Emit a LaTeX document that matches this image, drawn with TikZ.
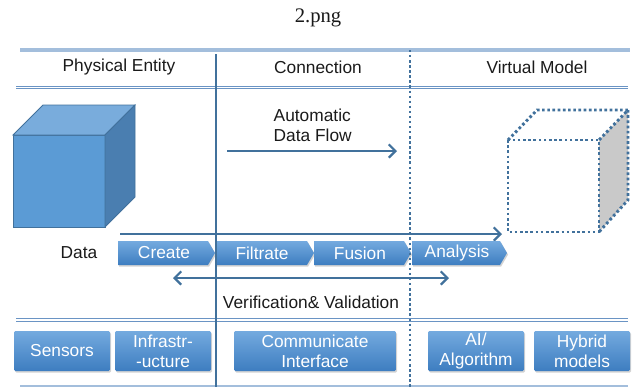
\documentclass[tikz,border=0pt]{standalone}
\usepackage{fontspec}
\setmainfont{Liberation Sans}
\newfontfamily\titlefont{Liberation Serif}
\usetikzlibrary{arrows.meta,shadows}
\definecolor{lineblue}{HTML}{41719C}
\definecolor{midblue}{HTML}{6A94C4}
\definecolor{paleblue}{HTML}{A3BEDC}
\definecolor{cubefront}{HTML}{5B9BD5}
\definecolor{cubetop}{HTML}{79ACDC}
\definecolor{cubeside}{HTML}{4A7EB0}
\definecolor{boxtop}{HTML}{74AADF}
\definecolor{boxbot}{HTML}{3D7DC0}
\definecolor{sidegray}{HTML}{C9C9C9}
\definecolor{txt}{HTML}{1A1A1A}
\tikzset{
  flowarrow/.style={draw=lineblue, line width=1.6pt, -{Straight Barb[length=5pt,width=10pt,line width=1.6pt]}},
  botharrow/.style={draw=lineblue, line width=1.6pt, {Straight Barb[length=5pt,width=10pt,line width=1.6pt]}-{Straight Barb[length=5pt,width=10pt,line width=1.6pt]}},
  dblline/.style={draw=midblue, line width=0.7pt, double=white, double distance=1.1pt},
  paleline/.style={draw=paleblue, line width=2.6pt},
  chev/.style={top color=boxtop, bottom color=boxbot, drop shadow={opacity=0.35, shadow xshift=0.8pt, shadow yshift=-1.2pt}},
  chevtext/.style={text=white},
  bbox/.style={top color=boxtop, bottom color=boxbot, text=white, align=center, minimum height=30pt, inner sep=0pt, rounded corners=1pt, drop shadow={opacity=0.35, shadow xshift=0.8pt, shadow yshift=-1.2pt}},
  dotcube/.style={draw=lineblue, line width=2.2pt, dash pattern=on 2pt off 1.9pt},
  cubeedge/.style={draw=lineblue, line width=0.6pt},
}
\begin{document}
\begin{tikzpicture}[x=0.75pt, y=-0.75pt, font=\fontsize{13}{15}\selectfont, text=txt]
\useasboundingbox (0,0) rectangle (635,390);
% title
\node (title) at (318,18) {\titlefont\fontsize{15.5}{17}\selectfont 2.png};
% horizontal rules
\draw[paleline] (20,50) -- (630,50);
\draw[dblline] (16,87.5) -- (628,87.5);
\draw[dblline] (16,320) -- (628,320);
\draw[draw=paleblue, line width=1.2pt] (20,386) -- (628,386);
% headers
\node (hpe) at (119,67) {Physical Entity};
\node (hcon) at (318,67) {Connection};
\node (hvm) at (537,67) {Virtual Model};
% blue cube
\path[cubeedge, fill=cubefront] (13,135) rectangle (105,227);
\path[cubeedge, fill=cubetop] (13,135) -- (43,105) -- (135,105) -- (105,135) -- cycle;
\path[cubeedge, fill=cubeside] (105,135) -- (135,105) -- (135,197) -- (105,227) -- cycle;
% dotted cube
\fill[sidegray] (599,140) -- (628,110) -- (628,200) -- (599,232) -- cycle;
\draw[dotcube] (508,140) rectangle (599,232);
\draw[dotcube] (508,140) -- (537,110) -- (628,110) -- (599,140);
\draw[dotcube] (628,110) -- (628,200) -- (599,232);
% automatic data flow
\node[align=left, anchor=west] (adf) at (269,125) {Automatic\\Data Flow};
\coordinate (af1) at (227,151);
\coordinate (af2) at (397,151);
\draw[flowarrow] (af1) -- (af2);
% long arrow
\coordinate (la1) at (120,234);
\coordinate (la2) at (502,234);
\draw[flowarrow] (la1) -- (la2);
% chevrons
\path[chev] (118,241) -- (208,241) -- (215,253) -- (208,265) -- (118,265) -- cycle;
\path[chev] (216,241) -- (307,241) -- (314,253) -- (307,265) -- (216,265) -- cycle;
\path[chev] (314,241) -- (404,241) -- (411,253) -- (404,265) -- (314,265) -- cycle;
\path[chev] (412,241) -- (500,241) -- (507,253) -- (500,265) -- (412,265) -- cycle;
\node[chevtext] (create) at (164,253) {Create};
\node[chevtext] (filtrate) at (262,253) {Filtrate};
\node[chevtext] (fusion) at (360,253) {Fusion};
\node[chevtext] (analysis) at (457,253) {Analysis};
\node (data) at (79,253) {Data};
% verification arrow
\coordinate (va1) at (173,278);
\coordinate (va2) at (449,278);
\draw[botharrow] (va1) -- (va2);
\node (vv) at (311,302) {Verification\& Validation};
% bottom boxes
\node[bbox, minimum width=72pt] (sensors) at (62,351) {Sensors};
\node[bbox, minimum width=72pt] (infra) at (163,351) {Infrastr-\\-ucture};
\node[bbox, minimum width=121.5pt] (comm) at (315,351) {Communicate\\Interface};
\node[bbox, minimum width=72pt] (ai) at (476,351) {AI/\\Algorithm};
\node[bbox, minimum width=72pt] (hybrid) at (582,351) {Hybrid\\models};
% vertical separators
\coordinate (vs1) at (216,54);
\coordinate (vs2) at (216,387);
\draw[draw=lineblue, line width=2pt] (vs1) -- (vs2);
\coordinate (vd1) at (410,50);
\coordinate (vd2) at (410,387);
\draw[draw=lineblue, line width=2pt, dash pattern=on 1.8pt off 2pt] (vd1) -- (vd2);
\end{tikzpicture}
\end{document}
